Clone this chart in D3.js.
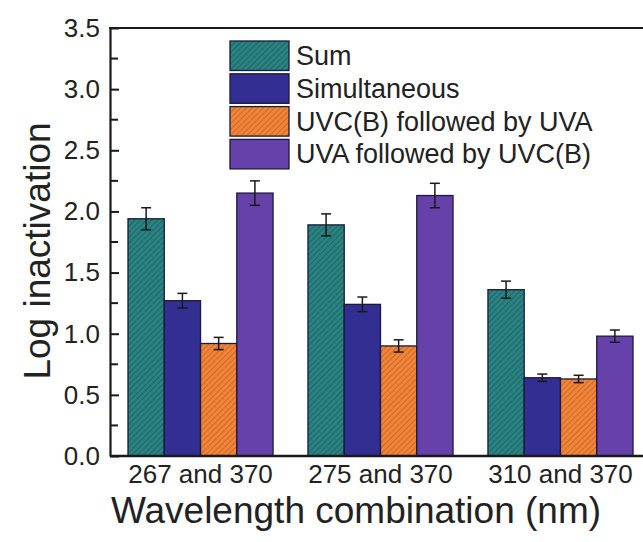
<!DOCTYPE html>
<html>
<head>
<meta charset="utf-8">
<script src="https://cdn.jsdelivr.net/npm/d3@7"></script>
<style>
  body { margin: 0; background: #fff; }
  svg { display: block; font-family: "Liberation Sans", Arial, sans-serif; }
</style>
</head>
<body>
<div id="chart"></div>
<script>
// data
var combos = ["267 and 370", "275 and 370", "310 and 370"];
var seriesNames = ["Sum", "Simultaneous", "UVC(B) followed by UVA", "UVA followed by UVC(B)"];
var sumVals   = [1.94, 1.89, 1.36];
var simVals   = [1.27, 1.24, 0.64];
var uvcUvaVals = [0.92, 0.90, 0.63];
var uvaUvcVals = [2.15, 2.13, 0.98];
var sumErr    = [0.09, 0.09, 0.07];
var simErr    = [0.06, 0.06, 0.03];
var uvcUvaErr = [0.05, 0.05, 0.03];
var uvaUvcErr = [0.10, 0.10, 0.05];
var yTicks = [0, 0.5, 1, 1.5, 2, 2.5, 3, 3.5];

var fills = ["#2a8282", "#332e92", "#f0843a", "#6641aa"];
var hatch = ["#1d5f5f", null, "#c4641f", null];

var values = [sumVals, simVals, uvcUvaVals, uvaUvcVals];
var errs = [sumErr, simErr, uvcUvaErr, uvaUvcErr];

var W = 643, H = 542;
var mLeft = 110, mTop = 28, mBottom = 456;

var svg = d3.select("#chart").append("svg")
    .attr("width", W).attr("height", H);

var defs = svg.append("defs");
fills.forEach(function(c, i) {
  var p = defs.append("pattern")
      .attr("id", "pat" + i)
      .attr("patternUnits", "userSpaceOnUse")
      .attr("width", 4).attr("height", 4)
      .attr("patternTransform", "rotate(45)");
  p.append("rect").attr("width", 4).attr("height", 4).attr("fill", c);
  if (hatch[i]) {
    p.append("line").attr("x1", 0).attr("y1", 0).attr("x2", 0).attr("y2", 4)
      .attr("stroke", hatch[i]).attr("stroke-width", 1.6);
  }
});

var y = d3.scaleLinear().domain([0, 3.5]).range([mBottom, mTop]);
var x0 = d3.scaleBand().domain(combos).range([mLeft, 651])
    .paddingInner(0.194).paddingOuter(0.1);
var x1 = d3.scaleBand().domain(d3.range(4)).range([0, x0.bandwidth()]);

// bars
var groups = svg.selectAll(".grp")
    .data(combos)
  .enter().append("g")
    .attr("class", "grp")
    .attr("transform", function(d) { return "translate(" + x0(d) + ",0)"; });

function rows(d, gi) {
  return d3.range(4).map(function(s) { return {s: s, v: values[s][gi], e: errs[s][gi]}; });
}

groups.selectAll("rect")
    .data(rows)
  .enter().append("rect")
    .attr("x", function(d) { return x1(d.s); })
    .attr("y", function(d) { return y(d.v); })
    .attr("width", x1.bandwidth())
    .attr("height", function(d) { return mBottom - y(d.v); })
    .attr("fill", function(d) { return "url(#pat" + d.s + ")"; })
    .attr("stroke", "#1a1a3a")
    .attr("stroke-width", 1.3);

// error bars
var eb = groups.selectAll(".err")
    .data(rows)
  .enter().append("g").attr("class", "err")
    .attr("stroke", "#1a1a1a").attr("stroke-width", 1.5);
eb.append("line")
    .attr("x1", function(d) { return x1(d.s) + x1.bandwidth() / 2; })
    .attr("x2", function(d) { return x1(d.s) + x1.bandwidth() / 2; })
    .attr("y1", function(d) { return y(d.v + d.e); })
    .attr("y2", function(d) { return y(d.v - d.e); });
[1, -1].forEach(function(sg) {
  eb.append("line")
      .attr("x1", function(d) { return x1(d.s) + x1.bandwidth() / 2 - 5; })
      .attr("x2", function(d) { return x1(d.s) + x1.bandwidth() / 2 + 5; })
      .attr("y1", function(d) { return y(d.v + sg * d.e); })
      .attr("y2", function(d) { return y(d.v + sg * d.e); });
});

// y axis with inward ticks
var yAxis = svg.append("g")
    .attr("transform", "translate(" + mLeft + ",0)")
    .call(d3.axisLeft(y).tickValues(yTicks).tickFormat(d3.format(".1f")).tickSizeInner(-9).tickSizeOuter(0).tickPadding(10));
yAxis.select(".domain").attr("stroke-width", 2.2).attr("stroke", "#1a1a1a");
yAxis.selectAll(".tick line").attr("stroke-width", 2).attr("stroke", "#1a1a1a");
yAxis.selectAll(".tick text").attr("font-size", 26).attr("fill", "#222");
yAxis.selectAll(".minor")
    .data(d3.range(0.25, 3.5, 0.5))
  .enter().append("line")
    .attr("class", "minor")
    .attr("x1", 0).attr("x2", 8)
    .attr("y1", function(d) { return y(d); }).attr("y2", function(d) { return y(d); })
    .attr("stroke", "#1a1a1a").attr("stroke-width", 2);

// x axis
var xAxis = svg.append("g")
    .attr("transform", "translate(0," + mBottom + ")")
    .call(d3.axisBottom(x0).tickSize(0).tickPadding(9));
xAxis.select(".domain").attr("stroke-width", 2.4).attr("stroke", "#1a1a1a")
    .attr("d", "M" + mLeft + ",0H" + W);
xAxis.selectAll(".tick text").attr("font-size", 26).attr("fill", "#222");

// top frame line
svg.append("line")
    .attr("x1", mLeft - 1).attr("x2", W)
    .attr("y1", mTop).attr("y2", mTop)
    .attr("stroke", "#1a1a1a").attr("stroke-width", 2.2);

// axis titles
svg.append("text")
    .attr("x", 356).attr("y", 523)
    .attr("text-anchor", "middle")
    .attr("font-size", 37).attr("fill", "#222")
    .text("Wavelength combination (nm)");
svg.append("text")
    .attr("transform", "translate(50,251) rotate(-90)")
    .attr("text-anchor", "middle")
    .attr("font-size", 37).attr("fill", "#222")
    .text("Log inactivation");

// legend
var legend = svg.selectAll(".legend")
    .data(seriesNames)
  .enter().append("g")
    .attr("class", "legend")
    .attr("transform", function(d, i) { return "translate(230," + (41 + i * 32.8) + ")"; });
legend.append("rect")
    .attr("width", 59).attr("height", 29.5)
    .attr("fill", function(d, i) { return "url(#pat" + i + ")"; })
    .attr("stroke", "#1a1a3a").attr("stroke-width", 1.3);
legend.append("text")
    .attr("x", 66).attr("y", 24)
    .attr("font-size", 27).attr("fill", "#222")
    .text(function(d) { return d; });
</script>
</body>
</html>
